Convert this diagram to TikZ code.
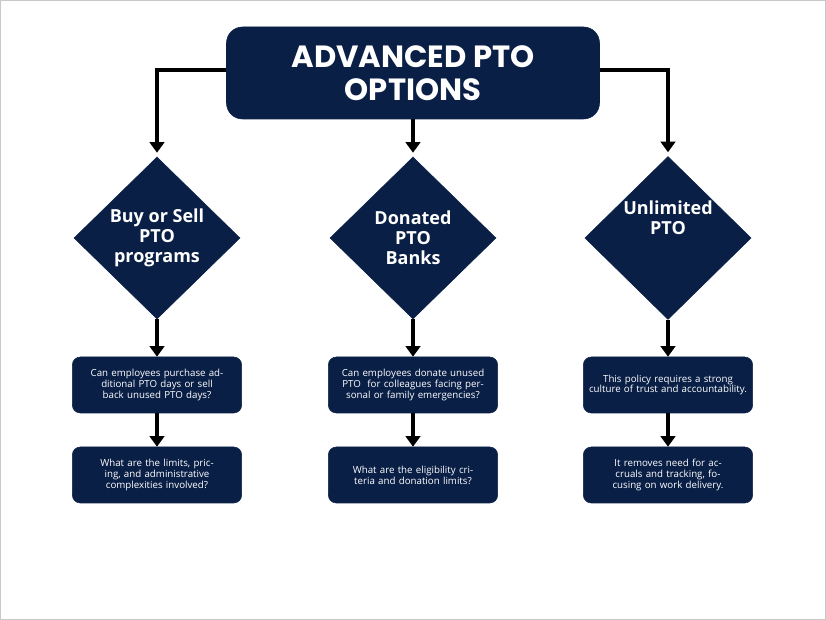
\documentclass[tikz,border=0pt]{standalone}
\usepackage{fontspec}
\setmainfont{Open Sans}
\newfontfamily\titlefont{Poppins}
\usetikzlibrary{shapes.geometric,arrows.meta,positioning}
\definecolor{navy}{RGB}{10,31,70}
\tikzset{
  headbox/.style={draw=navy,fill=navy,rounded corners=12pt,minimum width=279.75pt,minimum height=69pt,
    text=white,align=center,font=\titlefont\bfseries\fontsize{23}{25}\selectfont,inner sep=0pt},
  choice/.style={diamond,draw=navy,fill=navy,minimum width=124.5pt,minimum height=121.5pt,aspect=1.02,
    inner sep=0pt,text=white,align=center,font=\bfseries\fontsize{13.5}{15}\selectfont},
  infobox/.style={draw=navy,fill=navy,rounded corners=6pt,minimum width=127pt,minimum height=42pt,
    text width=120pt,text=white,align=center,font=\fontsize{7.3}{8.2}\selectfont,inner sep=1pt},
  flow/.style={line width=3pt,-{Triangle[length=8pt,width=11pt]}}
}
\begin{document}
\begin{tikzpicture}[x=0.75pt,y=0.75pt,yscale=-1]
  \draw[color={rgb,255:red,200;green,200;blue,200},fill=white] (0.5,0.5) rectangle (825.5,619.5);
  \useasboundingbox (0,0) rectangle (826,620);

  % heading
  \node[headbox] (head) at (413,73) {ADVANCED PTO\\OPTIONS};

  % diamonds
  \node[choice] (buy) at (157,238) {Buy or Sell\\PTO\\programs};
  \node[choice] (donate) at (413,238) {Donated\\PTO\\Banks};
  \node[choice] (unlim) at (668,238) {Unlimited\\PTO\\[1.2em]};

  % question boxes
  \node[infobox] (buyA) at (157,385) {Can employees purchase additional PTO days or sell back unused PTO days?};
  \node[infobox] (buyB) at (157,475) {What are the limits, pricing, and administrative complexities involved?};
  \node[infobox] (donA) at (413,385) {Can employees donate unused PTO\ \ for colleagues facing personal or family emergencies?};
  \node[infobox] (donB) at (413,475) {What are the eligibility criteria and donation limits?};
  \node[infobox] (unA) at (668,385) {This policy requires a strong culture of trust and accountability.};
  \node[infobox] (unB) at (668,475) {It removes need for accruals and tracking, focusing on work delivery.};

  % connectors
  \draw[flow] (head.west |- 0,70) -| ([yshift=-3pt]buy.north);
  \draw[flow] (head.south) -- ([yshift=-3pt]donate.north);
  \draw[flow] (head.east |- 0,70) -| ([yshift=-3pt]unlim.north);
  \draw[flow] (buy.south) -- (buyA.north);
  \draw[flow] (donate.south) -- (donA.north);
  \draw[flow] (unlim.south) -- (unA.north);
  \draw[flow] (buyA.south) -- (buyB.north);
  \draw[flow] (donA.south) -- (donB.north);
  \draw[flow] (unA.south) -- (unB.north);
\end{tikzpicture}
\end{document}
